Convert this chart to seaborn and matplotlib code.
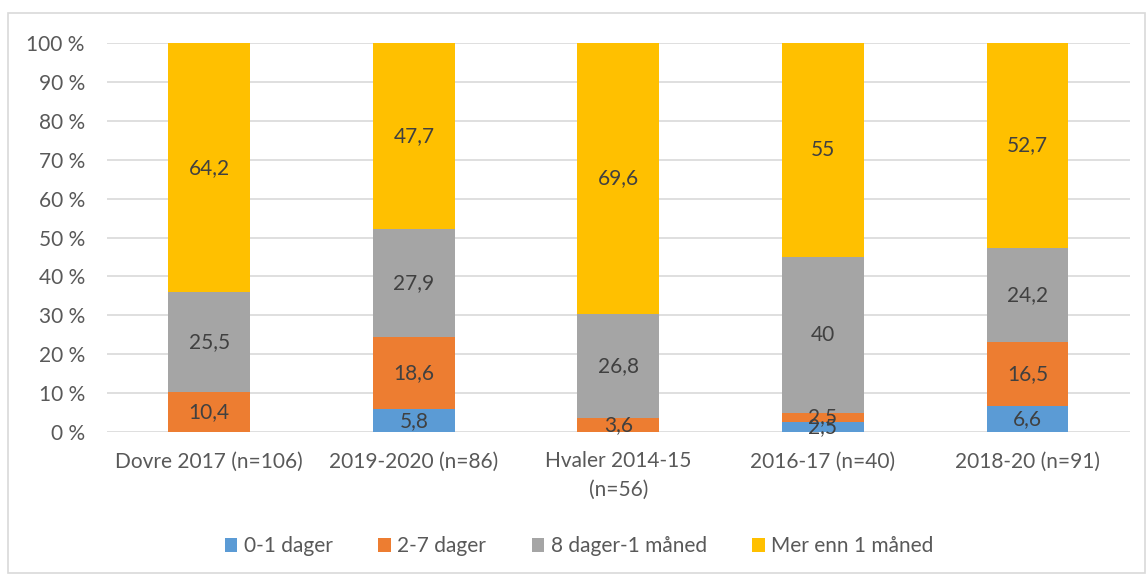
import numpy as np
import pandas as pd
import seaborn as sns
import matplotlib.pyplot as plt
from matplotlib.patches import Rectangle
from matplotlib.ticker import FuncFormatter

groups = ["Dovre 2017 (n=106)", "2019-2020 (n=86)", "Hvaler 2014-15\n(n=56)",
          "2016-17 (n=40)", "2018-20 (n=91)"]
series = ["0-1 dager", "2-7 dager", "8 dager-1 måned", "Mer enn 1 måned"]
v_01 = [0, 5.8, 0, 2.5, 6.6]
v_27 = [10.4, 18.6, 3.6, 2.5, 16.5]
v_8d = [25.5, 27.9, 26.8, 40, 24.2]
v_mer = [64.2, 47.7, 69.6, 55, 52.7]
colors = ["#5b9bd5", "#ed7d31", "#a5a5a5", "#ffc000"]

sns.set_style("white")
plt.rcParams['font.family'] = ['Lato', 'DejaVu Sans']

vals = np.array([v_01, v_27, v_8d, v_mer])
pct = vals / vals.sum(axis=0) * 100
bottoms = np.vstack([np.zeros(len(groups)), np.cumsum(pct, axis=0)[:-1]])

fig = plt.figure(figsize=(11.47, 5.75), dpi=100)
ax = fig.add_axes([0.0933, 0.2487, 0.8917, 0.6765])

for i, name in enumerate(series):
    df = pd.DataFrame({"group": groups, "pct": pct[i]})
    sns.barplot(data=df, x="group", y="pct", color=colors[i], width=0.4,
                bottom=bottoms[i], ax=ax, label=name, saturation=1,
                linewidth=0)

for i in range(len(series)):
    for j in range(len(groups)):
        if vals[i, j] == 0:
            continue
        lbl = ("%g" % vals[i, j]).replace(".", ",")
        ax.text(j, bottoms[i, j] + pct[i, j] / 2, lbl, ha="center", va="center",
                fontsize=15, color="#404040")

ax.set_ylim(0, 100)
ax.set_xlim(-0.5, len(groups) - 0.5)
ax.set_yticks(range(0, 101, 10))
ax.yaxis.set_major_formatter(FuncFormatter(lambda v, p: "%d %%" % v))
ax.grid(axis="y", color="#d9d9d9", linewidth=1.2)
ax.set_axisbelow(True)
for s in ax.spines.values():
    s.set_visible(False)
ax.set_xlabel("")
ax.set_ylabel("")
ax.tick_params(axis="both", length=0, labelsize=15, labelcolor="#595959")
ax.tick_params(axis="y", pad=16)
ax.tick_params(axis="x", pad=14)
for t in ax.get_xticklabels():
    t.set_linespacing(1.5)

ax.legend(loc="center", bbox_to_anchor=(0.505, 0.05), bbox_transform=fig.transFigure,
          ncol=4, frameon=False, fontsize=15, handlelength=0.6, handleheight=0.6,
          handletextpad=0.3, columnspacing=2.2, labelcolor="#595959")

fig.patches.append(Rectangle((8 / 1147, 2 / 575), 1137 / 1147, 560 / 575, transform=fig.transFigure,
                             fill=False, edgecolor="#d9d9d9", linewidth=1.2))

fig.savefig("out.png", dpi=100)
